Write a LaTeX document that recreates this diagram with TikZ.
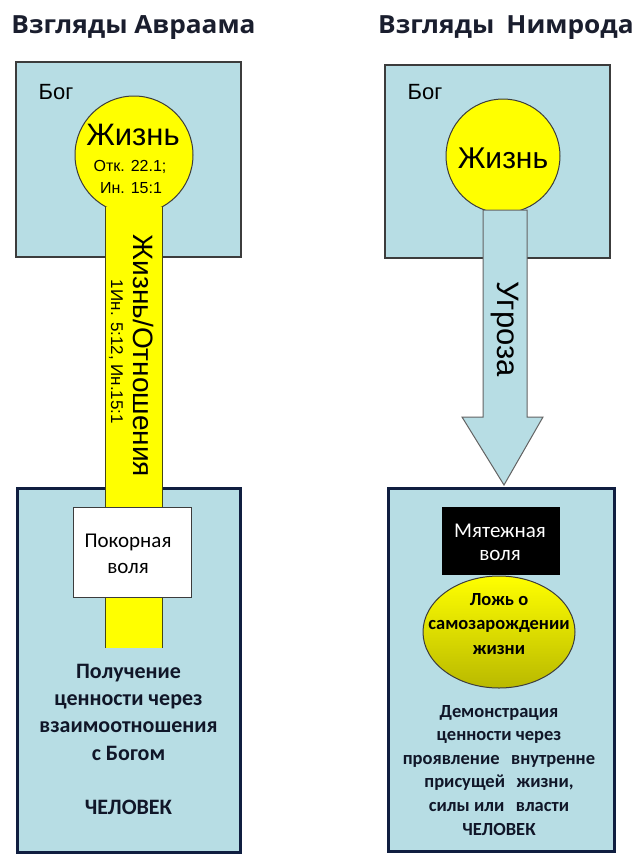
\documentclass[tikz,border=0pt]{standalone}
\usepackage{fontspec}
\setmainfont{Liberation Sans}
\newfontfamily\calib{Carlito}
\newfontfamily\titlef{Open Sans}
\usetikzlibrary{shapes.geometric}
\definecolor{boxblue}{RGB}{183,221,228}
\definecolor{navyedge}{RGB}{16,30,64}
\definecolor{edgegray}{RGB}{60,60,60}
\definecolor{yel}{RGB}{255,255,0}
\definecolor{darkyel}{RGB}{185,185,0}
\definecolor{baredge}{RGB}{70,70,20}
\definecolor{titlecol}{RGB}{26,30,46}
\definecolor{textcol}{RGB}{16,22,40}
\begin{document}
\begin{tikzpicture}[x=1pt,y=-1pt,
  godbox/.style={draw=edgegray, line width=1.2pt, fill=boxblue, inner sep=0pt},
  manbox/.style={draw=navyedge, line width=3pt, fill=boxblue, inner sep=0pt},
  lifecircle/.style={circle, draw=edgegray, fill=yel, line width=1pt, inner sep=0pt},
  titletext/.style={font=\titlef\bfseries\fontsize{25}{29}\selectfont, text=titlecol, anchor=base, inner sep=0pt, xscale=1.05},
  godlabel/.style={font=\fontsize{22}{26}\selectfont, anchor=base, inner sep=0pt},
  lifetext/.style={font=\fontsize{31}{36}\selectfont, anchor=base, inner sep=0pt},
  reftext/.style={font=\fontsize{16}{18}\selectfont, anchor=base, inner sep=0pt},
  leftbold/.style={font=\calib\bfseries\fontsize{22}{25}\selectfont, text=textcol, anchor=base, inner sep=0pt},
  rightbold/.style={font=\calib\bfseries\fontsize{18.5}{22}\selectfont, text=textcol, anchor=base, inner sep=0pt},
  willtext/.style={font=\calib\fontsize{21}{25}\selectfont, anchor=base, inner sep=0pt},
  edgeline/.style={draw=baredge, line width=1pt}
]
\useasboundingbox (0,0) rectangle (636,854);
\fill[white] (0,0) rectangle (636,854);

% ---------- Titles ----------
\node[titletext] (t1) at (133.5,33) {Взгляды Авраама};
\node[titletext] (t2) at (506,33) {Взгляды\hspace{0.2em} Нимрода};

% ---------- Left panel ----------
\node[godbox, minimum width=225pt, minimum height=195pt] (god1) at (128.5,159.5) {};
\node[godlabel] (bog1) at (56,99) {Бог};
\node[lifecircle, minimum size=118pt] (life1) at (134,155) {};
\node[manbox, minimum width=223pt, minimum height=364pt] (man1) at (128.5,670) {};
\node[fill=yel, inner sep=0pt, minimum width=56pt, minimum height=441pt] (bar) at (134,427.5) {};
\draw[edgeline] (bar.north west) -- (bar.south west);
\draw[edgeline] (bar.north east) -- (bar.south east);
\node[lifetext] (life1t) at (133,145) {Жизнь};
\node[reftext] (ref1) at (130,171) {Отк. 22.1;};
\node[reftext] (ref2) at (131,193) {Ин. 15:1};
\node[rotate=-90, inner sep=0pt, font=\fontsize{28}{32}\selectfont] (rel) at (143.5,356) {Жизнь/Отношения};
\node[rotate=-90, inner sep=0pt, font=\fontsize{17}{20}\selectfont] (relref) at (116,352) {1Ин. 5:12, Ин.15:1};
\node[draw=edgegray, line width=1pt, fill=white, minimum width=118pt, minimum height=90pt, inner sep=0pt] (will1) at (132,552) {};
\node[willtext] (w1a) at (128,547) {Покорная};
\node[willtext] (w1b) at (128,573) {воля};
\foreach \t/\yy [count=\i] in {Получение/678, {ценности через}/705.3, взаимоотношения/732.6, {с Богом}/760, ЧЕЛОВЕК/814.5}
  \node[leftbold] (al\i) at (128.5,\yy) {\t};

% ---------- Right panel ----------
\node[godbox, minimum width=225pt, minimum height=193pt] (god2) at (497.5,161.5) {};
\node[godlabel] (bog2) at (425,99.5) {Бог};
\node[lifecircle, minimum size=114pt] (life2) at (503,156) {};
\coordinate (sh1) at (483,210);
\coordinate (sh2) at (527,210);
\coordinate (sh3) at (527,417);
\coordinate (sh4) at (543,417);
\coordinate (tip) at (504,485);
\coordinate (sh5) at (462,417);
\coordinate (sh6) at (483,417);
\draw[draw=edgegray!80, line width=1pt, fill=boxblue, line join=miter]
  (sh1) -- (sh2) -- (sh3) -- (sh4) -- (tip) -- (sh5) -- (sh6) -- cycle;
\node[lifetext, font=\fontsize{30}{34}\selectfont] (life2t) at (503,168) {Жизнь};
\node[rotate=-90, inner sep=0pt, font=\fontsize{31}{34}\selectfont] (threat) at (505,329) {Угроза};

\node[manbox, minimum width=226pt, minimum height=363pt] (man2) at (501,669.5) {};
\node[fill=black, minimum width=118pt, minimum height=68pt, inner sep=0pt] (will2) at (501,541) {};
\node[willtext, text=white] (w2a) at (500,537) {Мятежная};
\node[willtext, text=white] (w2b) at (500,560) {воля};
\node[ellipse, draw=edgegray, line width=1pt, top color=yel, bottom color=darkyel,
      minimum width=152pt, minimum height=112pt, inner sep=0pt] (lie) at (499,632) {};
\foreach \t/\yy [count=\i] in {{Ложь о}/605, самозарождении/629.5, жизни/654}
  \node[rightbold, text=black] (lt\i) at (499,\yy) {\t};
\foreach \t/\yy [count=\i] in {Демонстрация/717, {ценности через}/740.6, {проявление\hspace{0.4em} внутренне}/764.2, {присущей\hspace{0.4em} жизни,}/787.8, {силы или\hspace{0.4em} власти}/811.4, ЧЕЛОВЕК/835}
  \node[rightbold] (ar\i) at (499,\yy) {\t};
\end{tikzpicture}
\end{document}
